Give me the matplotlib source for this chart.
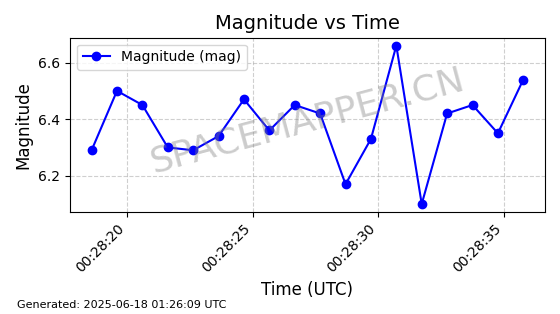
import pandas as pd
import matplotlib
matplotlib.use('Agg')
import matplotlib.pyplot as plt
import matplotlib.dates as mdates

times = ['2025-06-18 00:28:18.60', '2025-06-18 00:28:19.61', '2025-06-18 00:28:20.62',
         '2025-06-18 00:28:21.63', '2025-06-18 00:28:22.64', '2025-06-18 00:28:23.65',
         '2025-06-18 00:28:24.66', '2025-06-18 00:28:25.67', '2025-06-18 00:28:26.68',
         '2025-06-18 00:28:27.69', '2025-06-18 00:28:28.70', '2025-06-18 00:28:29.71',
         '2025-06-18 00:28:30.72', '2025-06-18 00:28:31.73', '2025-06-18 00:28:32.74',
         '2025-06-18 00:28:33.75', '2025-06-18 00:28:34.76', '2025-06-18 00:28:35.77']
magnitude = [6.29, 6.50, 6.45, 6.30, 6.29, 6.34, 6.47, 6.36, 6.45, 6.42,
             6.17, 6.33, 6.66, 6.10, 6.42, 6.45, 6.35, 6.54]

t = pd.to_datetime(times)

fig, ax = plt.subplots(figsize=(5.6, 3.14), dpi=100)
ax.plot(t, magnitude, 'o-', color='blue', markersize=6, label='Magnitude (mag)')
ax.set_title('Magnitude vs Time', fontsize=14)
ax.set_xlabel('Time (UTC)', fontsize=12)
ax.set_ylabel('Magnitude', fontsize=12)
ax.grid(True, linestyle='--', alpha=0.6)
ax.legend(loc='upper left')
ax.xaxis.set_major_formatter(mdates.DateFormatter('%H:%M:%S'))
plt.setp(ax.get_xticklabels(), rotation=45, ha='right')

# водяной знак
ax.text(0.5, 0.52, 'SPACEMAPPER.CN', transform=ax.transAxes, fontsize=26,
        color='gray', alpha=0.4, rotation=15, ha='center', va='center')

fig.text(0.03, 0.02, 'Generated: 2025-06-18 01:26:09 UTC', fontsize=8)

plt.subplots_adjust(left=0.125, right=0.973, top=0.88, bottom=0.325)
plt.savefig('out.png', dpi=100)
